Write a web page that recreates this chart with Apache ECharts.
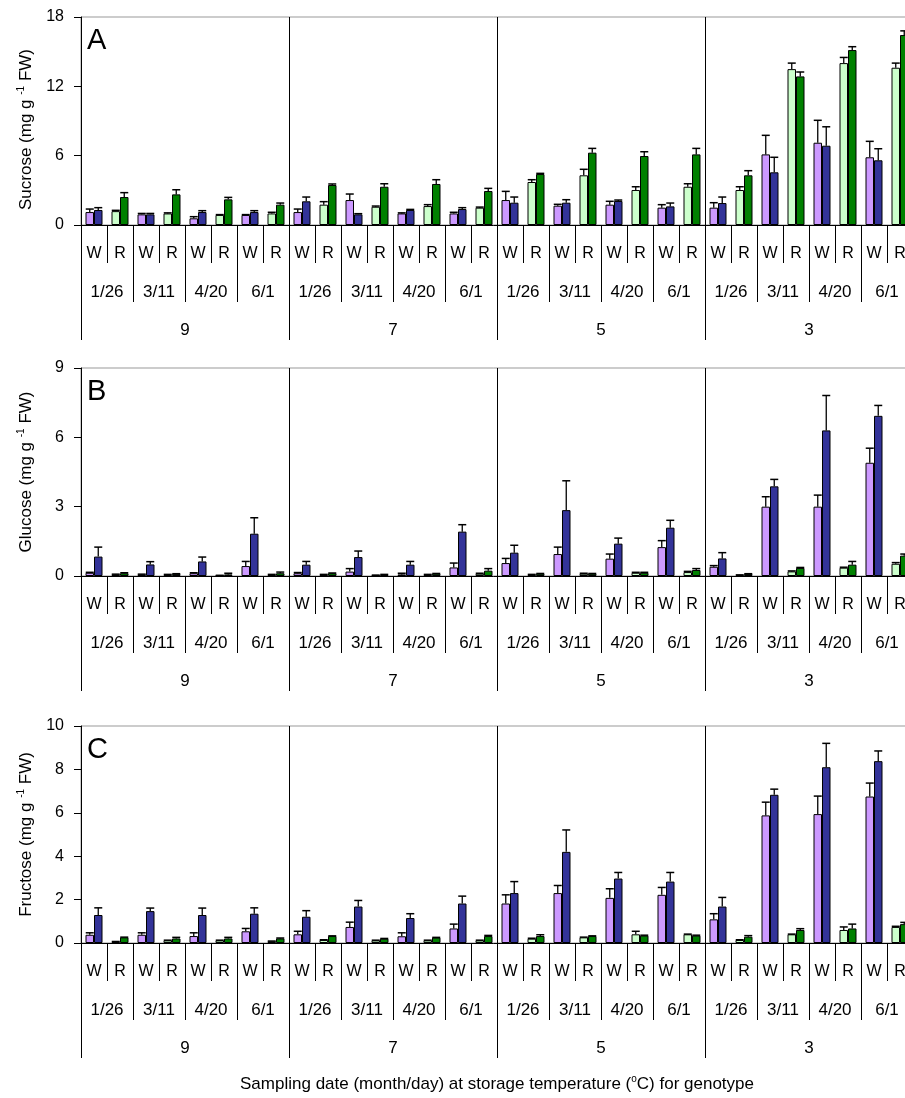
<!DOCTYPE html>
<html lang="en" style="height: 100%">
<head>
  <meta charset="utf-8">
</head>
<body style="height: 100%; margin: 0; background: #fff">
  <div id="container" style="width: 905px; height: 1098px"></div>

  <script type="text/javascript" src="https://fastly.jsdelivr.net/npm/echarts@6/dist/echarts.min.js"></script>
  <script type="text/javascript">
// categories
var temps = ['9', '7', '5', '3'];
var dates = ['1/26', '3/11', '4/20', '6/1'];
var genotypes = ['W', 'R'];

// values per W/R group, in the order 9 -> 3, 1/26 -> 6/1, W then R
// "first" = light bar (W: light purple, R: light green), "second" = dark bar
var sucroseFirst = [
  1.12, 1.2, 0.92, 1.0, 0.58, 0.87, 0.87, 1.0,
  1.12, 1.76, 2.16, 1.58, 1.0, 1.64, 1.0, 1.5,
  2.16, 3.72, 1.67, 4.3, 1.76, 3.03, 1.5, 3.31,
  1.5, 3.03, 6.11, 13.49, 7.12, 14.01, 5.86, 13.61
];
var sucroseFirstErr = [
  1.38, 1.27, 1.0, 1.05, 0.72, 0.9, 0.9, 1.1,
  1.38, 2.02, 2.68, 1.64, 1.05, 1.76, 1.1, 1.55,
  2.91, 3.92, 1.79, 4.82, 2.05, 3.31, 1.76, 3.57,
  1.93, 3.31, 7.76, 14.01, 9.06, 14.5, 7.24, 14.01
];
var sucroseSecond = [
  1.3, 2.42, 0.92, 2.65, 1.12, 2.22, 1.12, 1.76,
  2.05, 3.46, 0.92, 3.31, 1.3, 3.55, 1.38, 2.94,
  1.93, 4.41, 1.93, 6.26, 2.08, 5.97, 1.61, 6.11,
  1.9, 4.3, 4.56, 12.86, 6.86, 15.14, 5.6, 16.44
];
var sucroseSecondErr = [
  1.5, 2.8, 1.0, 3.05, 1.24, 2.39, 1.24, 1.9,
  2.42, 3.55, 0.98, 3.57, 1.35, 3.92, 1.5, 3.17,
  2.42, 4.47, 2.19, 6.63, 2.16, 6.34, 1.9, 6.63,
  2.42, 4.7, 5.86, 13.24, 8.5, 15.43, 6.6, 16.8
];

var glucoseFirst = [
  0.14, 0.07, 0.07, 0.06, 0.12, 0.02, 0.43, 0.06,
  0.12, 0.06, 0.19, 0.03, 0.07, 0.06, 0.37, 0.1,
  0.56, 0.06, 0.95, 0.1, 0.75, 0.14, 1.25, 0.17,
  0.4, 0.04, 3.0, 0.2, 3.0, 0.36, 4.9, 0.53
];
var glucoseFirstErr = [
  0.16, 0.08, 0.08, 0.07, 0.14, 0.03, 0.63, 0.07,
  0.15, 0.07, 0.32, 0.04, 0.12, 0.07, 0.56, 0.12,
  0.76, 0.07, 1.25, 0.12, 0.95, 0.16, 1.53, 0.2,
  0.45, 0.05, 3.43, 0.22, 3.5, 0.38, 5.53, 0.58
];
var glucoseSecond = [
  0.84, 0.12, 0.5, 0.09, 0.63, 0.07, 1.83, 0.12,
  0.49, 0.12, 0.82, 0.06, 0.49, 0.1, 1.92, 0.23,
  1.01, 0.1, 2.85, 0.1, 1.4, 0.14, 2.09, 0.26,
  0.76, 0.09, 3.88, 0.35, 6.3, 0.49, 6.93, 0.88
];
var glucoseSecondErr = [
  1.25, 0.14, 0.62, 0.1, 0.82, 0.12, 2.52, 0.17,
  0.63, 0.13, 1.08, 0.07, 0.63, 0.11, 2.22, 0.32,
  1.33, 0.11, 4.12, 0.11, 1.64, 0.16, 2.41, 0.32,
  1.01, 0.1, 4.18, 0.37, 7.81, 0.63, 7.38, 0.95
];

var fructoseFirst = [
  0.38, 0.06, 0.38, 0.12, 0.32, 0.12, 0.54, 0.08,
  0.4, 0.14, 0.74, 0.12, 0.31, 0.12, 0.67, 0.12,
  1.82, 0.2, 2.3, 0.26, 2.08, 0.4, 2.22, 0.4,
  1.09, 0.14, 5.88, 0.4, 5.94, 0.6, 6.75, 0.74
];
var fructoseFirstErr = [
  0.47, 0.07, 0.47, 0.13, 0.47, 0.13, 0.67, 0.09,
  0.54, 0.15, 0.96, 0.13, 0.47, 0.13, 0.87, 0.13,
  2.22, 0.22, 2.65, 0.27, 2.5, 0.54, 2.56, 0.41,
  1.35, 0.15, 6.49, 0.41, 6.77, 0.74, 7.37, 0.77
];
var fructoseSecond = [
  1.29, 0.26, 1.47, 0.21, 1.29, 0.21, 1.35, 0.21,
  1.21, 0.32, 1.68, 0.2, 1.15, 0.25, 1.82, 0.32,
  2.3, 0.32, 4.2, 0.32, 2.97, 0.34, 2.83, 0.34,
  1.68, 0.29, 6.83, 0.6, 8.1, 0.67, 8.38, 0.87
];
var fructoseSecondErr = [
  1.62, 0.27, 1.61, 0.26, 1.61, 0.26, 1.62, 0.23,
  1.49, 0.33, 1.96, 0.21, 1.35, 0.26, 2.16, 0.35,
  2.83, 0.38, 5.21, 0.33, 3.25, 0.36, 3.25, 0.36,
  2.1, 0.34, 7.09, 0.66, 9.2, 0.87, 8.85, 0.95
];

var panelLetters = ['A', 'B', 'C'];
var yNames = ['Sucrose', 'Glucose', 'Fructose'];
var yMax = [18, 9, 10];
var yStep = [6, 3, 2];

var FONT = 'Liberation Sans, Arial, Helvetica, sans-serif';
var BAR_W = 8.5;
var CAP_W = 8;
var colW = ['#cc99ff', '#333399']; // W: light, dark
var colR = ['#ccffcc', '#008000']; // R: light, dark

var genoCats = [], dateCats = [];
temps.forEach(function () {
  dates.forEach(function (d) {
    dateCats.push(d);
    genotypes.forEach(function (g) { genoCats.push(g); });
  });
});

var panels = [
  { first: sucroseFirst, firstErr: sucroseFirstErr, second: sucroseSecond, secondErr: sucroseSecondErr, top: 17, height: 208, namePad: [0, 17, 0, 0] },
  { first: glucoseFirst, firstErr: glucoseFirstErr, second: glucoseSecond, secondErr: glucoseSecondErr, top: 368, height: 208, namePad: 0 },
  { first: fructoseFirst, firstErr: fructoseFirstErr, second: fructoseSecond, secondErr: fructoseSecondErr, top: 726, height: 217, namePad: 0 }
];

var dom = document.getElementById('container');
var myChart = echarts.init(dom, null, { renderer: 'canvas' });

var grid = [], xAxis = [], yAxis = [], series = [], graphic = [];

function levelAxis(g, data, tickLen, margin, fontSize, split) {
  return {
    type: 'category', gridIndex: g, position: 'bottom', data: data,
    axisLine: { show: !split && tickLen < 50, lineStyle: { color: '#000', width: 1 } },
    axisTick: { show: true, interval: 0, inside: false, alignWithLabel: false, length: tickLen, lineStyle: { color: '#000', width: 1 } },
    axisLabel: { show: true, interval: 0, margin: margin, fontSize: fontSize, color: '#000', fontFamily: FONT },
    splitLine: { show: !!split, interval: 0, lineStyle: { color: '#000', width: 1 } },
    splitArea: { show: false }
  };
}

panels.forEach(function (p, g) {
  grid.push({
    left: 81, width: 832, top: p.top, height: p.height,
    outerBoundsMode: 'none', containLabel: false,
    show: true, borderColor: '#999', borderWidth: 1, backgroundColor: 'transparent'
  });
  xAxis.push(levelAxis(g, genoCats, 38, 21, 16, false));   // W / R
  xAxis.push(levelAxis(g, dateCats, 77, 59, 17, false));   // sampling date
  xAxis.push(levelAxis(g, temps, 115, 97, 17, true));      // storage temperature
  yAxis.push({
    type: 'value', gridIndex: g, min: 0, max: yMax[g], interval: yStep[g],
    name: '{n|' + yNames[g] + ' (mg g }{s|-1}{n| FW)}',
    nameLocation: 'middle', nameGap: 45,
    nameTextStyle: {
      padding: p.namePad,
      rich: {
        n: { fontSize: 17, color: '#000', fontFamily: FONT },
        s: { fontSize: 10, color: '#000', fontFamily: FONT, padding: [0, 0, 10, 0] }
      }
    },
    axisLine: { show: true, lineStyle: { color: '#000', width: 1 } },
    axisTick: { show: true, inside: false, length: 7, lineStyle: { color: '#000', width: 1 } },
    axisLabel: { fontSize: 16, margin: 17, color: '#000', fontFamily: FONT },
    splitLine: { show: false }
  });

  var xi = g * 3;
  series.push({
    type: 'bar', xAxisIndex: xi, yAxisIndex: g, data: p.first,
    barWidth: BAR_W, barGap: '0%',
    itemStyle: {
      borderColor: '#000', borderWidth: 1,
      color: function (params) { return params.dataIndex % 2 ? colR[0] : colW[0]; }
    }
  });
  series.push({
    type: 'bar', xAxisIndex: xi, yAxisIndex: g, data: p.second,
    barWidth: BAR_W, barGap: '0%',
    itemStyle: {
      borderColor: '#000', borderWidth: 1,
      color: function (params) { return params.dataIndex % 2 ? colR[1] : colW[1]; }
    }
  });
  var errData = p.first.map(function (v, i) {
    return [i, v, p.firstErr[i], p.second[i], p.secondErr[i]];
  });
  series.push({
    type: 'custom', xAxisIndex: xi, yAxisIndex: g, data: errData, z: 5,
    encode: { x: 0, y: [1, 2, 3, 4] },
    renderItem: function (params, api) {
      var i = api.value(0);
      var kids = [];
      [[1, 2, -1], [3, 4, 1]].forEach(function (d) {
        var base = api.coord([i, api.value(d[0])]);
        var top = api.coord([i, api.value(d[1])]);
        var x = base[0] + d[2] * BAR_W / 2;
        kids.push({ type: 'line', shape: { x1: x, y1: base[1], x2: x, y2: top[1] }, style: { stroke: '#000', lineWidth: 1.3 } });
        kids.push({ type: 'line', shape: { x1: x - CAP_W / 2, y1: top[1], x2: x + CAP_W / 2, y2: top[1] }, style: { stroke: '#000', lineWidth: 1.5 } });
      });
      return { type: 'group', children: kids };
    }
  });

  graphic.push({
    type: 'text', left: 87, top: p.top + 9, z: 10,
    style: { text: panelLetters[g], font: '29px ' + FONT, fill: '#000' }
  });
});

graphic.push({
  type: 'text', x: 497, y: 1084, z: 10,
  style: {
    text: '{n|Sampling date (month/day) at storage temperature (}{s|o}{n|C) for genotype}',
    textAlign: 'center', textVerticalAlign: 'middle',
    rich: {
      n: { fontSize: 17, fontFamily: FONT, fill: '#000', color: '#000' },
      s: { fontSize: 10, fontFamily: FONT, fill: '#000', color: '#000', padding: [0, 0, 10, 0] }
    }
  }
});

var option = {
  backgroundColor: '#fff',
  animation: false,
  grid: grid,
  xAxis: xAxis,
  yAxis: yAxis,
  series: series,
  graphic: graphic
};

myChart.setOption(option);
window.addEventListener('resize', myChart.resize);
  </script>
</body>
</html>
